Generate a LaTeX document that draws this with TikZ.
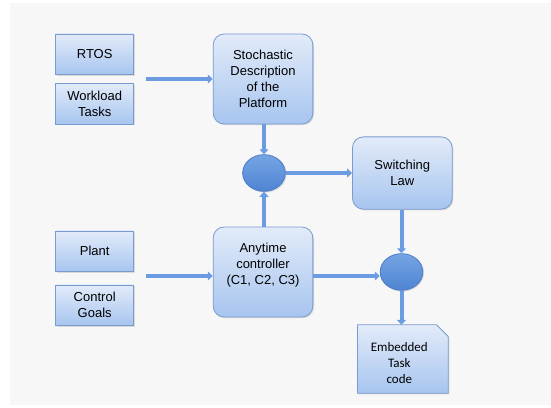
\documentclass[tikz,border=0pt]{standalone}
\usepackage{fontspec}
\setmainfont{Liberation Sans}
\newfontfamily\calfont{Carlito}
\usetikzlibrary{shadows,arrows.meta,shapes.geometric}
\definecolor{bg}{HTML}{F7F7F7}
\definecolor{boxtop}{HTML}{E2EBF9}
\definecolor{boxbot}{HTML}{A7C5EF}
\definecolor{boxline}{HTML}{7A9BCF}
\definecolor{arr}{HTML}{6B9BE0}
\definecolor{circtop}{HTML}{76A4E4}
\definecolor{circbot}{HTML}{4F84D2}
\definecolor{circline}{HTML}{4C7DC6}
\begin{document}
\begin{tikzpicture}[x=1pt,y=-1pt,
  shad/.style={drop shadow={shadow xshift=1.2pt,shadow yshift=-1.2pt,opacity=0.25}},
  inbox/.style={draw=boxline, line width=0.8pt, top color=boxtop, bottom color=boxbot,
    minimum width=78pt, minimum height=40.7pt, align=center, inner sep=0pt,
    font=\fontsize{13}{16}\selectfont, shad},
  bigbox/.style={inbox, rounded corners=11pt, minimum width=99.7pt, minimum height=90pt},
  junction/.style={ellipse, draw=circline, line width=0.8pt, top color=circtop, bottom color=circbot,
    minimum width=42.7pt, minimum height=36.7pt, inner sep=0pt, shad},
  flow/.style={draw=arr, line width=4pt, -{Triangle[length=5pt,width=9pt]}, shorten >=0pt}
]
\useasboundingbox (0,0) rectangle (551,407);
\fill[bg] (10,3) rectangle (551,405);

\node[inbox] (rtos) at (94.7,54.3) {RTOS};
\node[inbox] (work) at (94.7,103.7) {Workload\\Tasks};
\node[inbox] (plant) at (94.7,251.3) {Plant};
\node[inbox] (goals) at (94.7,305.3) {Control\\Goals};

\node[bigbox] (stoch) at (263,79) {Stochastic\\Description\\of the\\Platform};
\node[bigbox] (any) at (263,272) {Anytime\\controller\\(C1, C2, C3)\\\mbox{}};
\node[bigbox, minimum height=72.3pt] (sw) at (402.3,173) {Switching\\Law};

\node[junction] (c1) at (264,173) {};
\node[junction] (c2) at (401.5,272) {};

\node[draw=none, minimum width=90.4pt, minimum height=68pt, inner sep=0pt] (emb) at (402.8,359) {};
\path[draw=boxline, line width=0.8pt, top color=boxtop, bottom color=boxbot, shad]
  (emb.north west) -- ([xshift=-11.7pt]emb.north east) -- ([yshift=-11.7pt]emb.north east)
  -- (emb.south east) -- (emb.south west) -- cycle;
\node[align=center, font=\calfont\fontsize{13}{16}\selectfont] (embtxt) at (399.3,363) {Embedded\\Task\\code};

\coordinate (in1) at (146,79);
\coordinate (in2) at (146,276);

\draw[flow] (in1) -- (stoch.west |- in1);
\draw[flow] (in2) -- (any.west |- in2);
\draw[flow] (stoch.south -| c1) -- (c1.north);
\draw[flow] (any.north -| c1) -- (c1.south);
\draw[flow] (c1.east) -- (sw.west);
\draw[flow] ([yshift=-4pt]any.east) -- ([yshift=-4pt]c2.west);
\draw[flow] (sw.south -| c2) -- (c2.north);
\draw[flow] (c2.south) -- (emb.north -| c2);
\end{tikzpicture}
\end{document}
